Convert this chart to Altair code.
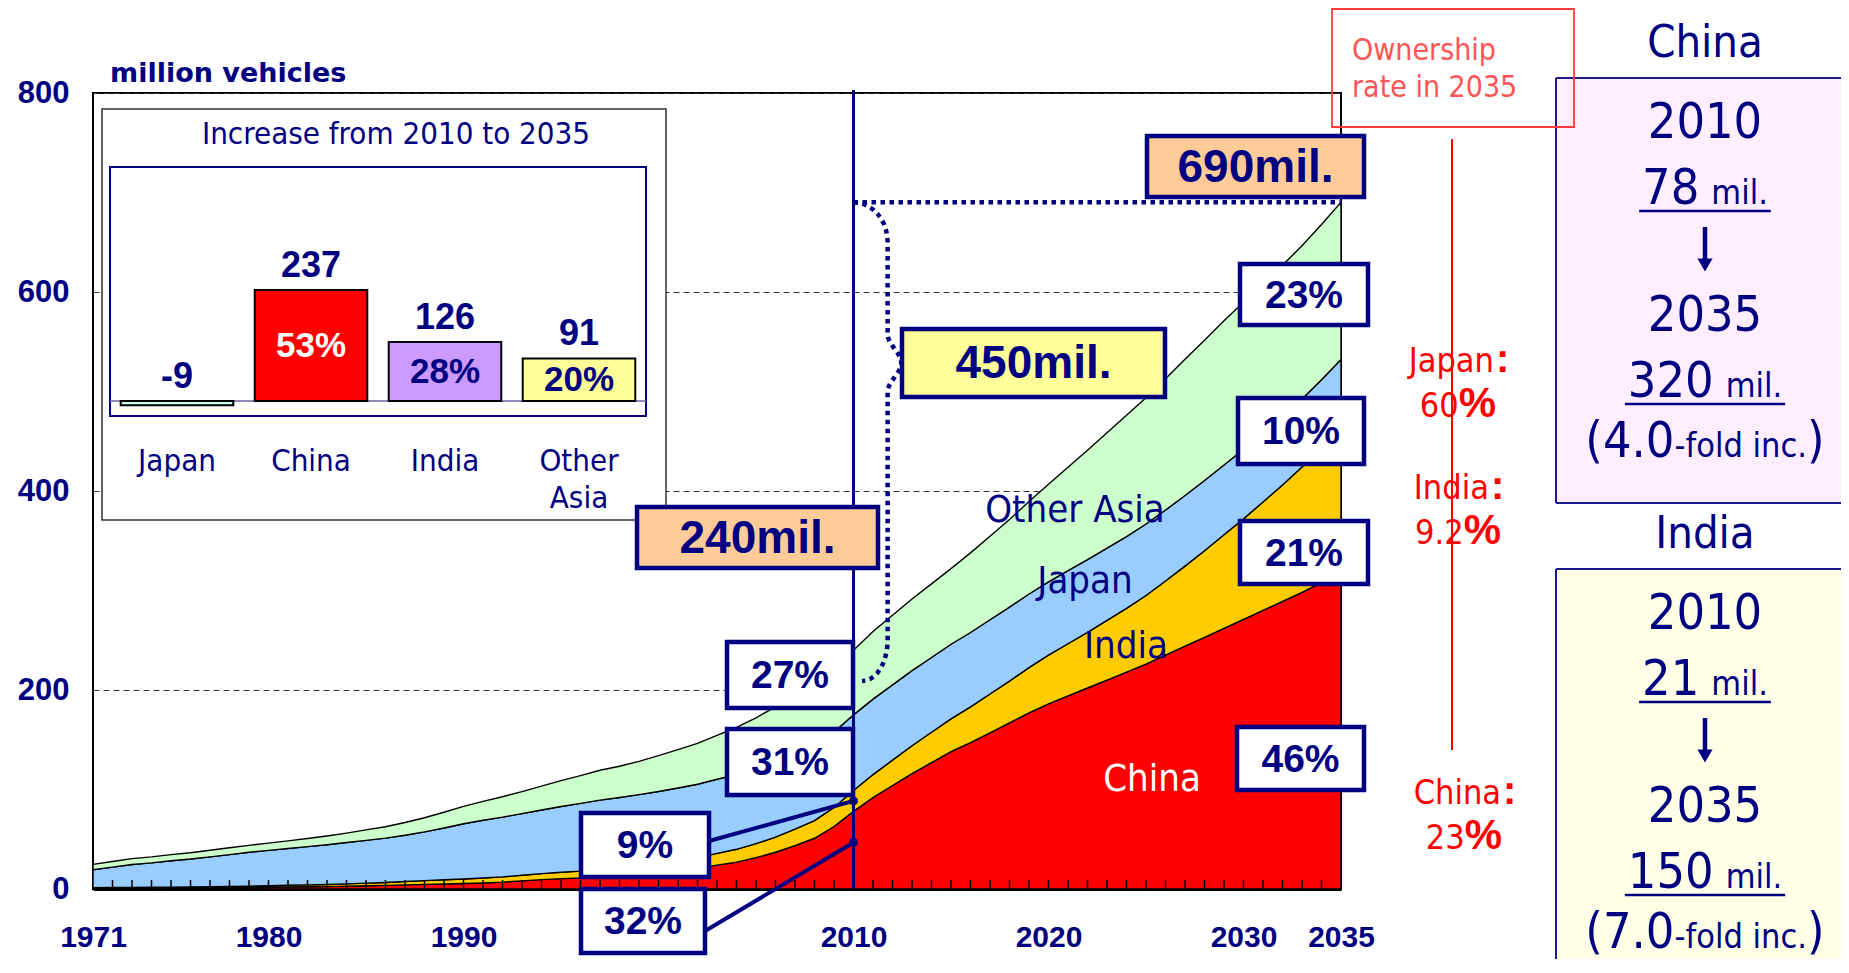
import math
import altair as alt
import pandas as pd

# ---------------- data ----------------
years = list(range(1971, 2036))
countries = ["China", "India", "Japan", "Other Asia"]

china = [0.5, 0.6, 0.7, 0.8, 0.9, 1.0, 1.1, 1.3, 1.5, 1.8,
         2.0, 2.2, 2.4, 2.8, 3.2, 3.6, 4.1, 4.6, 5.1, 5.5,
         6.1, 6.9, 8.2, 9.4, 10.4, 11.0, 12.2, 13.2, 14.5, 16.1,
         18.0, 20.5, 24.0, 27.0, 31.6, 36.9, 43.6, 51.0, 62.8, 78.0,
         92, 104, 116, 127, 138, 147, 157, 167, 177, 186,
         194, 202, 210, 218, 226, 235, 244, 253, 262, 271,
         280, 289, 298, 308, 318]
india = [0.8, 0.85, 0.9, 0.95, 1.0, 1.1, 1.2, 1.3, 1.4, 1.5,
         1.7, 1.9, 2.1, 2.4, 2.7, 3.0, 3.4, 3.8, 4.2, 4.6,
         5.0, 5.3, 5.6, 6.0, 6.5, 7.0, 7.6, 8.2, 8.8, 9.4,
         10.0, 10.8, 11.8, 12.9, 14.0, 15.2, 16.5, 17.8, 19.2, 21.0,
         23, 25.5, 28, 30.5, 33, 36, 39, 42, 45.5, 49,
         52.5, 56, 60, 64, 69, 74.5, 80.5, 87, 94, 101,
         109, 117, 126, 136, 147]
japan = [18.0, 20.5, 23.0, 24.5, 26.5, 28.0, 30.0, 32.0, 34.0, 35.5,
         37.0, 38.5, 40.0, 41.5, 43.0, 44.5, 46.5, 49.0, 52.0, 55.5,
         58.0, 60.0, 62.0, 64.0, 66.0, 68.0, 69.5, 70.5, 71.5, 72.5,
         73.5, 74.0, 74.5, 75.0, 75.5, 76.0, 76.0, 76.0, 75.8, 76.0,
         75.8, 75.6, 75.4, 75.2, 75.0, 74.8, 74.6, 74.3, 74.0, 73.7,
         73.4, 73.0, 72.6, 72.2, 71.8, 71.4, 71.0, 70.6, 70.2, 69.8,
         69.4, 68.9, 68.4, 67.8, 67.2]
other_asia = [5.5, 5.7, 5.9, 6.0, 6.2, 6.4, 6.6, 6.8, 7.0, 7.3,
              7.7, 8.2, 8.8, 9.5, 10.5, 11.5, 12.8, 14.2, 15.8, 17.5,
              19.0, 20.5, 22.0, 24.0, 26.0, 28.0, 30.0, 31.5, 33.5, 36.0,
              38.5, 41.0, 44.0, 47.5, 51.0, 55.0, 59.0, 61.5, 63.0, 65.0,
              68, 70, 72, 74, 76, 80, 84, 88, 93, 98,
              104, 110, 116, 122, 127, 132, 137, 141, 145, 148,
              150, 152, 154, 156, 158]

base_year = 2010
end_year = 2035
share_2010 = [32, 9, 31, 27]     # China, India, Japan, Other Asia
share_2035 = [46, 21, 10, 23]
total_labels = [240, 450, 690]   # 2010 total, increase, 2035 total (mil.)

x_tick_labels = [1971, 1980, 1990, 2010, 2020, 2030, 2035]
y_tick_labels = [0, 200, 400, 600, 800]

inc_categories = ["Japan", "China", "India", "Other Asia"]
inc_values = [-9, 237, 126, 91]
inc_shares = [None, 53, 28, 20]

own_countries = ["Japan", "India", "China"]
own_rates = ["60", "9.2", "23"]

panel_countries = ["China", "India"]
panel_2010 = [78, 21]
panel_2035 = [320, 150]
panel_fold = ["4.0", "7.0"]

# ---------------- style ----------------
NAVY = "#000080"
BOLD = "Liberation Sans, Arial, Helvetica, sans-serif"
COND = "DejaVu Sans Condensed, DejaVu Sans, sans-serif"
W, H = 1248, 796
area_colors = ["#FF0000", "#FFCC00", "#99CCFF", "#CCFFCC"]
inc_colors = ["#CCFFEE", "#FF0000", "#CC99FF", "#FFFF99"]

series = [china, india, japan, other_asia]
rows = []
for i, (c, s) in enumerate(zip(countries, series)):
    for y, v in zip(years, s):
        rows.append({"year": y, "country": c, "value": v, "idx": i})
df = pd.DataFrame(rows)

XS = alt.Scale(domain=[years[0], years[-1]], nice=False, zero=False)
YS = alt.Scale(domain=[y_tick_labels[0], y_tick_labels[-1]], nice=False)

i0 = years.index(base_year)
tot_base = sum(s[i0] for s in series)
tot_end = sum(s[-1] for s in series)

areas = alt.Chart(df).mark_area(stroke="black", strokeWidth=1.4).encode(
    x=alt.X("year:Q", scale=XS, axis=alt.Axis(
        values=x_tick_labels, format="d", title=None, ticks=False, grid=False,
        labelFont=BOLD, labelFontSize=30, labelFontWeight="bold", labelColor=NAVY,
        labelPadding=48, labelBaseline="middle", labelFlush=False, labelOverlap=False,
        domainColor="black", domainWidth=3)),
    y=alt.Y("value:Q", stack="zero", scale=YS, axis=alt.Axis(
        values=y_tick_labels, title=None, ticks=False, domain=False, grid=True,
        gridDash=[6, 4], gridColor="#333333", gridWidth=1,
        labelFont=BOLD, labelFontSize=31, labelFontWeight="bold", labelColor=NAVY,
        labelPadding=24)),
    color=alt.Color("country:N", scale=alt.Scale(domain=countries, range=area_colors), legend=None),
    order=alt.Order("idx:Q", sort="ascending"),
)

ticks = alt.Chart(pd.DataFrame({"year": years[1:-1]})).mark_rule(color="black", strokeWidth=1.5).encode(
    x=alt.X("year:Q", scale=XS), y=alt.value(H), y2=alt.value(H - 9))

vline = alt.Chart(pd.DataFrame({"year": [base_year]})).mark_rule(color=NAVY, strokeWidth=3).encode(
    x=alt.X("year:Q", scale=XS), y=alt.value(-3), y2=alt.value(H))

dotted = alt.Chart(pd.DataFrame({"x1": [base_year], "x2": [end_year], "v": [tot_end]})).mark_rule(
    color=NAVY, strokeWidth=4.5, strokeDash=[4.5, 4.5]).encode(
    x=alt.X("x1:Q", scale=XS), x2="x2:Q", y=alt.Y("v:Q", scale=YS))

# curly brace from the 2035 total down to the 2010 total (geometry derived from the totals)
box450 = (809, 1072, 236, 304)
tip_v = (H - (box450[2] + box450[3]) / 2) * 800 / H
bx, tipx, ex = base_year + 1.75, base_year + 2.45, base_year + 0.44
pts = []
r = 40
for k in range(11):
    th = math.pi / 2 * (1 - k / 10)
    pts.append((base_year + (bx - base_year) * math.cos(th), tot_end - r + r * math.sin(th)))
for k in range(11):
    t = k / 10
    pts.append((bx + (tipx - bx) * (0.5 - 0.5 * math.cos(math.pi * t)), tip_v + 29 - 29 * t))
for k in range(1, 11):
    t = k / 10
    pts.append((tipx - (tipx - bx) * (0.5 - 0.5 * math.cos(math.pi * t)), tip_v - 29 * t))
for k in range(11):
    th = -math.pi / 2 * k / 10
    pts.append((ex + (bx - ex) * math.cos(th), tot_base + 10 + 41 * math.sin(th)))
brace_df = pd.DataFrame({"x": [p[0] for p in pts], "v": [p[1] for p in pts], "o": list(range(len(pts)))})
brace = alt.Chart(brace_df).mark_line(color=NAVY, strokeWidth=4.5, strokeDash=[4.5, 4.5]).encode(
    x=alt.X("x:Q", scale=XS), y=alt.Y("v:Q", scale=YS), order="o:Q")

india_mid = china[i0] + india[i0] / 2
china_pt = china[i0] * 0.6
lead1 = alt.Chart(pd.DataFrame({"year": [base_year], "v": [india_mid]})).mark_rule(color=NAVY, strokeWidth=4).encode(
    x=alt.X("year:Q", scale=XS), y=alt.Y("v:Q", scale=YS), x2=alt.value(616), y2=alt.value(748))
lead2 = alt.Chart(pd.DataFrame({"year": [base_year], "v": [china_pt]})).mark_rule(color=NAVY, strokeWidth=4).encode(
    x=alt.X("year:Q", scale=XS), y=alt.Y("v:Q", scale=YS), x2=alt.value(612), y2=alt.value(838))
dots = alt.Chart(pd.DataFrame({"year": [base_year, base_year], "v": [india_mid, china_pt]})).mark_point(
    filled=True, size=80, color=NAVY, opacity=1).encode(
    x=alt.X("year:Q", scale=XS), y=alt.Y("v:Q", scale=YS))

main = alt.layer(areas, ticks, vline, dotted, brace, lead1, lead2, dots)

ONE = pd.DataFrame({"k": [0]})


def rect(x1, x2, y1, y2, fill, stroke=NAVY, sw=4.5, fo=1.0):
    return alt.Chart(ONE).mark_rect(fill=fill, fillOpacity=fo, stroke=stroke, strokeWidth=sw).encode(
        x=alt.value(x1), x2=alt.value(x2), y=alt.value(y1), y2=alt.value(y2))


def text(t, x, y, size, font=BOLD, weight="bold", color=NAVY, align="center", baseline="middle"):
    return alt.Chart(pd.DataFrame({"t": [t]})).mark_text(
        font=font, fontSize=size, fontWeight=weight, color=color, align=align, baseline=baseline).encode(
        x=alt.value(x), y=alt.value(y), text="t:N")


def hrule(x1, x2, y, color, sw):
    return alt.Chart(ONE).mark_rule(color=color, strokeWidth=sw).encode(
        x=alt.value(x1), x2=alt.value(x2), y=alt.value(y))


def vrule(x, y1, y2, color, sw):
    return alt.Chart(ONE).mark_rule(color=color, strokeWidth=sw).encode(
        x=alt.value(x), y=alt.value(y1), y2=alt.value(y2))


# ---------------- inset bar chart ----------------
IX = alt.Scale(domain=inc_categories, range=[17, 553], paddingInner=0.16, paddingOuter=0.08)
IY = alt.Scale(domain=[-32, 500], range=[323, 74], nice=False, zero=False)
inc_df = pd.DataFrame({"cat": inc_categories, "v": inc_values,
                       "vlab": [str(v) for v in inc_values],
                       "pct": [f"{s}%" if s is not None else "" for s in inc_shares]})
inset_outer = rect(9, 573, 16, 427, "white", stroke="#333333", sw=1.5)
inset_inner = rect(17, 553, 74, 323, "white", stroke=NAVY, sw=2)
zero_line = alt.Chart(ONE).mark_rule(color="#6666AA", strokeWidth=1.5).encode(
    y=alt.Y(datum=0, scale=IY, axis=None), x=alt.value(17), x2=alt.value(553))
bars = alt.Chart(inc_df).mark_bar(stroke="black", strokeWidth=2).encode(
    x=alt.X("cat:N", scale=IX, axis=None, sort=inc_categories),
    y=alt.Y("v:Q", scale=IY, axis=None),
    color=alt.Color("cat:N", scale=alt.Scale(domain=inc_categories, range=inc_colors), legend=None))
vlabels = alt.Chart(inc_df).transform_calculate(top="max(datum.v, 0)").mark_text(
    font=BOLD, fontSize=36, fontWeight="bold", color=NAVY, baseline="bottom", dy=-5).encode(
    x=alt.X("cat:N", scale=IX, axis=None, sort=inc_categories),
    y=alt.Y("top:Q", scale=IY, axis=None), text="vlab:N")
plabels = alt.Chart(inc_df).transform_filter("datum.pct != ''").transform_calculate(
    mid="datum.v / 2").mark_text(font=BOLD, fontSize=35, fontWeight="bold", baseline="middle").encode(
    x=alt.X("cat:N", scale=IX, axis=None, sort=inc_categories),
    y=alt.Y("mid:Q", scale=IY, axis=None), text="pct:N",
    color=alt.condition("datum.cat == 'China'", alt.value("white"), alt.value(NAVY)))
clabels = alt.Chart(inc_df).mark_text(font=COND, fontSize=31, color=NAVY, baseline="top",
                                      lineBreak=" ", lineHeight=37).encode(
    x=alt.X("cat:N", scale=IX, axis=None, sort=inc_categories), y=alt.value(354), text="cat:N")
inset_title = text(f"Increase from {base_year} to {end_year}", 303, 42, 31, font=COND, weight="normal")
inset = alt.layer(inset_outer, inset_inner, zero_line, bars, vlabels, plabels, clabels, inset_title)

# ---------------- annotations ----------------
ann = [text("million vehicles", 17, -19, 27, font="DejaVu Sans", align="left")]

tot_boxes = [
    (total_labels[0], (544, 785, 414, 475), "#FFCC99"),
    (total_labels[1], box450, "#FFFF99"),
    (total_labels[2], (1054, 1271, 43, 104), "#FFCC99"),
]
for val, (x1, x2, y1, y2), fill in tot_boxes:
    ann.append(rect(x1, x2, y1, y2, fill))
    ann.append(text(f"{val}mil.", (x1 + x2) / 2, (y1 + y2) / 2 + 1, 46))

box_2035 = {"Other Asia": (1147, 1275, 171, 232), "Japan": (1145, 1271, 305, 371),
            "India": (1147, 1275, 428, 491), "China": (1144, 1271, 634, 697)}
box_2010 = {"Other Asia": (634, 760, 549, 615), "Japan": (634, 760, 636, 702),
            "India": (488, 616, 720, 784), "China": (488, 612, 796, 860)}
for c, s10, s35 in zip(countries, share_2010, share_2035):
    for s, (x1, x2, y1, y2) in ((s10, box_2010[c]), (s35, box_2035[c])):
        ann.append(rect(x1, x2, y1, y2, "white"))
        ann.append(text(f"{s}%", (x1 + x2) / 2, (y1 + y2) / 2 + 1, 39))

area_label_pos = {"Other Asia": (982, 418, NAVY), "Japan": (992, 489, NAVY),
                  "India": (1033, 554, NAVY), "China": (1059, 687, "white")}
for c in countries:
    x, y, col = area_label_pos[c]
    ann.append(text(c, x, y, 38, font=COND, weight="normal", color=col))

# right side panels
CX = 1612
PX1, PX2 = 1463, 1900
panel_fill = {"China": "#FFEEFF", "India": "#FFFFE8"}
panel_top = {"China": -50, "India": 441}
BIG, SMALL = 50, 34
for c, a, b, f in zip(panel_countries, panel_2010, panel_2035, panel_fold):
    ty = panel_top[c]
    ann.append(rect(PX1, PX2, ty + 35, ty + 460, panel_fill[c], stroke=panel_fill[c], sw=0))
    ann.append(vrule(PX1, ty + 35, ty + 460, "#1A1A8C", 2))
    ann.append(hrule(PX1, PX2, ty + 35, "#1A1A8C", 2))
    ann.append(hrule(PX1, PX2, ty + 460, "#1A1A8C", 2))
    ann.append(text(c, CX, ty, 45, font=COND, weight="normal"))
    ann.append(text(str(base_year), CX, ty + 80, BIG, font=COND, weight="normal"))
    # down arrow
    ann.append(vrule(CX, ty + 184, ty + 218, NAVY, 4.5))
    ann.append(alt.Chart(ONE).mark_point(shape="triangle-down", filled=True, size=230, color=NAVY, opacity=1)
               .encode(x=alt.value(CX), y=alt.value(ty + 222)))
    ann.append(text(str(end_year), CX, ty + 273, BIG, font=COND, weight="normal"))
    for num, by in ((str(a), ty + 161), (str(b), ty + 354)):
        wn = len(num) * 0.572 * BIG
        wu = 1.663 * SMALL
        gap = 12
        start = CX - (wn + gap + wu) / 2
        ann.append(text(num, start + wn, by, BIG, font=COND, weight="normal", align="right", baseline="alphabetic"))
        ann.append(text("mil.", start + wn + gap, by, SMALL, font=COND, weight="normal", align="left", baseline="alphabetic"))
        ann.append(hrule(start - 3, start + wn + gap + wu + 3, by + 7, NAVY, 2.5))
    wa = 1.781 * BIG
    wb = 3.902 * SMALL
    wc = 0.351 * BIG
    start = CX - (wa + wb + wc) / 2
    fy = ty + 414
    ann.append(text("(" + f, start, fy, BIG, font=COND, weight="normal", align="left", baseline="alphabetic"))
    ann.append(text("-fold inc.", start + wa, fy, SMALL, font=COND, weight="normal", align="left", baseline="alphabetic"))
    ann.append(text(")", start + wa + wb, fy, BIG, font=COND, weight="normal", align="left", baseline="alphabetic"))

# ownership rate (red)
RED = "#FF0000"
ann.append(rect(1239, 1481, -84, 34, "white", stroke="#FF3B3B", sw=1.8, fo=0))
ann.append(text("Ownership", 1259, -42, 30, font=COND, weight="normal", color="#FF5555", align="left"))
ann.append(text(f"rate in {end_year}", 1259, -5, 30, font=COND, weight="normal", color="#FF5555", align="left"))
ann.append(vrule(1359, 46, 657, RED, 2))
own_pos = {"Japan": (1365, 267), "India": (1365, 394), "China": (1371, 699)}
name_w = {"Japan": 2.51, "India": 2.21, "China": 2.57}
for c, rt in zip(own_countries, own_rates):
    x, y = own_pos[c]
    wname = name_w[c] * 34
    wcol = 0.333 * 40
    nend = x - (wname + wcol) / 2 + wname
    ann.append(text(c, nend, y + 12, 34, font=COND, weight="normal", color=RED, align="right", baseline="alphabetic"))
    ann.append(text(":", nend + 2, y + 12, 40, font=BOLD, weight="bold", color=RED, align="left", baseline="alphabetic"))
    wn = (sum(0.286 if ch == "." else 0.572 for ch in rt)) * 34
    wp = 0.889 * 42
    anchor = x - (wn + wp) / 2 + wn
    ann.append(text(rt, anchor, y + 57, 34, font=COND, weight="normal", color=RED, align="right", baseline="alphabetic"))
    ann.append(text("%", anchor, y + 57, 42, font=BOLD, weight="bold", color=RED, align="left", baseline="alphabetic"))

annotations = alt.layer(*ann)

chart = alt.layer(main, inset, annotations).resolve_scale(
    x="independent", y="independent", color="independent"
).properties(
    width=W, height=H,
    autosize=alt.AutoSizeParams(type="none"),
    padding={"left": 85, "top": 85, "right": 500, "bottom": 70},
).configure_view(stroke="black", strokeWidth=2)

chart.save("out.html", embed_options={"renderer": "svg", "actions": False})
